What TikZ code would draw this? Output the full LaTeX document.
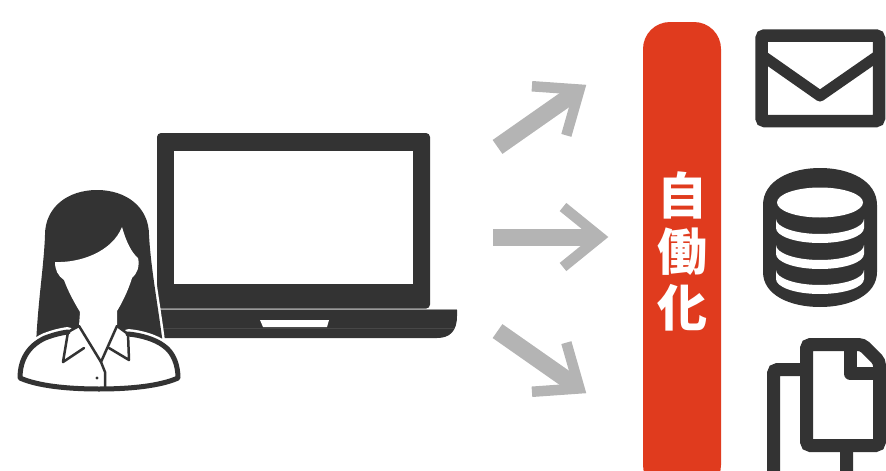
\documentclass[tikz,border=0pt]{standalone}
\usepackage{fontspec}
\newfontfamily\cjk{Noto Sans CJK JP}
\definecolor{ink}{HTML}{333333}
\definecolor{arrowgray}{HTML}{B4B4B4}
\definecolor{autored}{HTML}{E03B1E}
\definecolor{seam}{HTML}{9A9A9A}
\definecolor{lipline}{HTML}{474747}

\tikzset{
  iconline/.style={draw=ink, line width=12.5pt},
  shaftline/.style={draw=arrowgray, line width=17pt},
  chevron/.style={draw=arrowgray, line width=10.5pt, line join=miter},
  collarline/.style={draw=ink, line width=2.5pt, line join=round, line cap=round},
  halo/.style={draw=white, line width=#1},
  pageline/.style={draw=ink, line width=13pt, rounded corners=4pt},
}

% one grey arrow: tip x, tip y, direction angle, length
\newcommand\flowarrow[4]{%
  \begin{scope}[shift={(#1,#2)}, rotate=#3]
    \draw[shaftline] (-#4,0) -- (-11,0);
    \draw[chevron] (-45,-30) -- (-8,0) -- (-45,30);
  \end{scope}}

% one white ring of the database cylinder between two sagging curves
\newcommand\dbband[2]{%
  \fill[white] (776,#1) .. controls +(0,8.3) and +(-24.3,0) .. (820,#1+15)
    .. controls +(24.3,0) and +(0,8.3) .. (864,#1) -- (864,#2)
    .. controls +(0,8.3) and +(24.3,0) .. (820,#2+15)
    .. controls +(-24.3,0) and +(0,8.3) .. (776,#2) -- cycle;}

\begin{document}
\begin{tikzpicture}[x=1pt,y=-1pt]
\useasboundingbox (0,0) rectangle (886,471);
\clip (0,0) rectangle (886,471);

% ---------- laptop ----------
\fill[ink, rounded corners=4pt] (157,133) rectangle (430,308.6);
\fill[white] (174,151) rectangle (413,284);
\fill[ink] (130,310) -- (457,310) -- (457,316)
  .. controls (457,331) and (450,338) .. (437,338) -- (150,338)
  .. controls (137,338) and (130,331) .. (130,316) -- cycle;
\draw[seam, line width=1.2pt] (130,309.3) -- (457,309.3);
\draw[lipline, line width=0.6pt] (132,328) -- (454,328);
\fill[white] (260,320) -- (329,320) -- (327,327) -- (263,327) -- cycle;

% ---------- person ----------
\def\hairpath{(36,345) .. controls (38,300) and (44,265) .. (45,235)
  .. controls (45,207) and (68,190) .. (97,190)
  .. controls (126,190) and (149,207) .. (149,235)
  .. controls (151,270) and (158,305) .. (163,345) -- cycle}
\draw[halo=5pt] \hairpath;
\fill[ink] \hairpath;
% face and neck
\fill[white] (55,262) .. controls (80,263) and (112,252) .. (122,227)
  .. controls (126,241) and (131,252) .. (138,258)
  .. controls (140,266) and (137,274) .. (132,278)
  .. controls (128,291) and (122,303) .. (117,311) -- (117,326)
  -- (101,364) -- (79,326) -- (80,312)
  .. controls (74,302) and (68,291) .. (64,280)
  .. controls (58,276) and (55,270) .. (55,262) -- cycle;
% shirt
\def\shoulders{(68,332) .. controls (60,333) and (53,335) .. (45,338)
  .. controls (28,346) and (20,360) .. (20,378)
  .. controls (38,386) and (68,389) .. (99,389)
  .. controls (130,389) and (160,386) .. (178,378)
  .. controls (178,366) and (174,353) .. (164,346)
  .. controls (155,339) and (140,335) .. (128,334)}
\draw[halo=10pt, line cap=round] \shoulders;
\fill[white] (68,332) -- (79,326) -- (101,362) -- (117,326) -- (128,334)
  .. controls (140,335) and (155,339) .. (164,346)
  .. controls (174,353) and (178,366) .. (178,378)
  .. controls (160,386) and (130,389) .. (99,389)
  .. controls (68,389) and (38,386) .. (20,378)
  .. controls (20,360) and (28,346) .. (45,338)
  .. controls (53,335) and (60,333) .. (68,332) -- cycle;
\draw[ink, line width=5pt, line cap=round, line join=round] \shoulders;
% collar and placket
\draw[collarline] (79,326) -- (68,332) -- (63,362) -- (84,348);
\draw[collarline] (117,326) -- (128,334) -- (129,360) -- (109,348);
\draw[collarline] (79,326) -- (101,362) -- (117,326);
\draw[collarline] (101,362) -- (105,372) -- (105,389);
\fill[ink] (97,378) circle[radius=1.6];

% ---------- arrows ----------
\flowarrow{586}{85}{35}{108}
\flowarrow{608}{237}{0}{115}
\flowarrow{586}{393}{-35}{108}

% ---------- automation bar ----------
\node[fill=autored, rounded corners=27pt, minimum width=78pt,
  minimum height=470pt, inner sep=0pt] (bar) at (682,257) {};
\node[text=white, font=\cjk\bfseries\fontsize{50pt}{56pt}\selectfont,
  align=center, inner sep=0pt] (label) at (682,251.5) {自\\働\\化};

% ---------- envelope ----------
\draw[iconline, rounded corners=3pt] (761.5,35.5) rectangle (879,121);
\draw[draw=ink, line width=11pt, line join=round] (761.5,55) -- (820,96) -- (879,55);

% ---------- database ----------
\fill[ink] (763,205) .. controls (763,181) and (790,168) .. (820,168)
  .. controls (850,168) and (877,181) .. (877,205) -- (877,272)
  .. controls (877,295) and (850,307) .. (820,307)
  .. controls (790,307) and (763,295) .. (763,272) -- cycle;
\fill[white] (820,202.5) ellipse[x radius=43, y radius=15];
\dbband{219}{228}
\dbband{245}{254}
\dbband{270}{279}

% ---------- documents ----------
% back sheet
\draw[pageline] (806,369.5) -- (773.5,369.5) -- (773.5,495) -- (846.5,495) -- (846.5,440);
% front sheet with folded corner
\fill[white] (800,338) rectangle (886,452);
\draw[pageline] (806.5,344.5) -- (862.5,344.5) -- (879.5,361.5) -- (879.5,445.5)
  -- (806.5,445.5) -- cycle;
\draw[draw=ink, line width=13pt, line join=round]
  (850,344.5) -- (850,373.5) -- (879.5,373.5);
\end{tikzpicture}
\end{document}
